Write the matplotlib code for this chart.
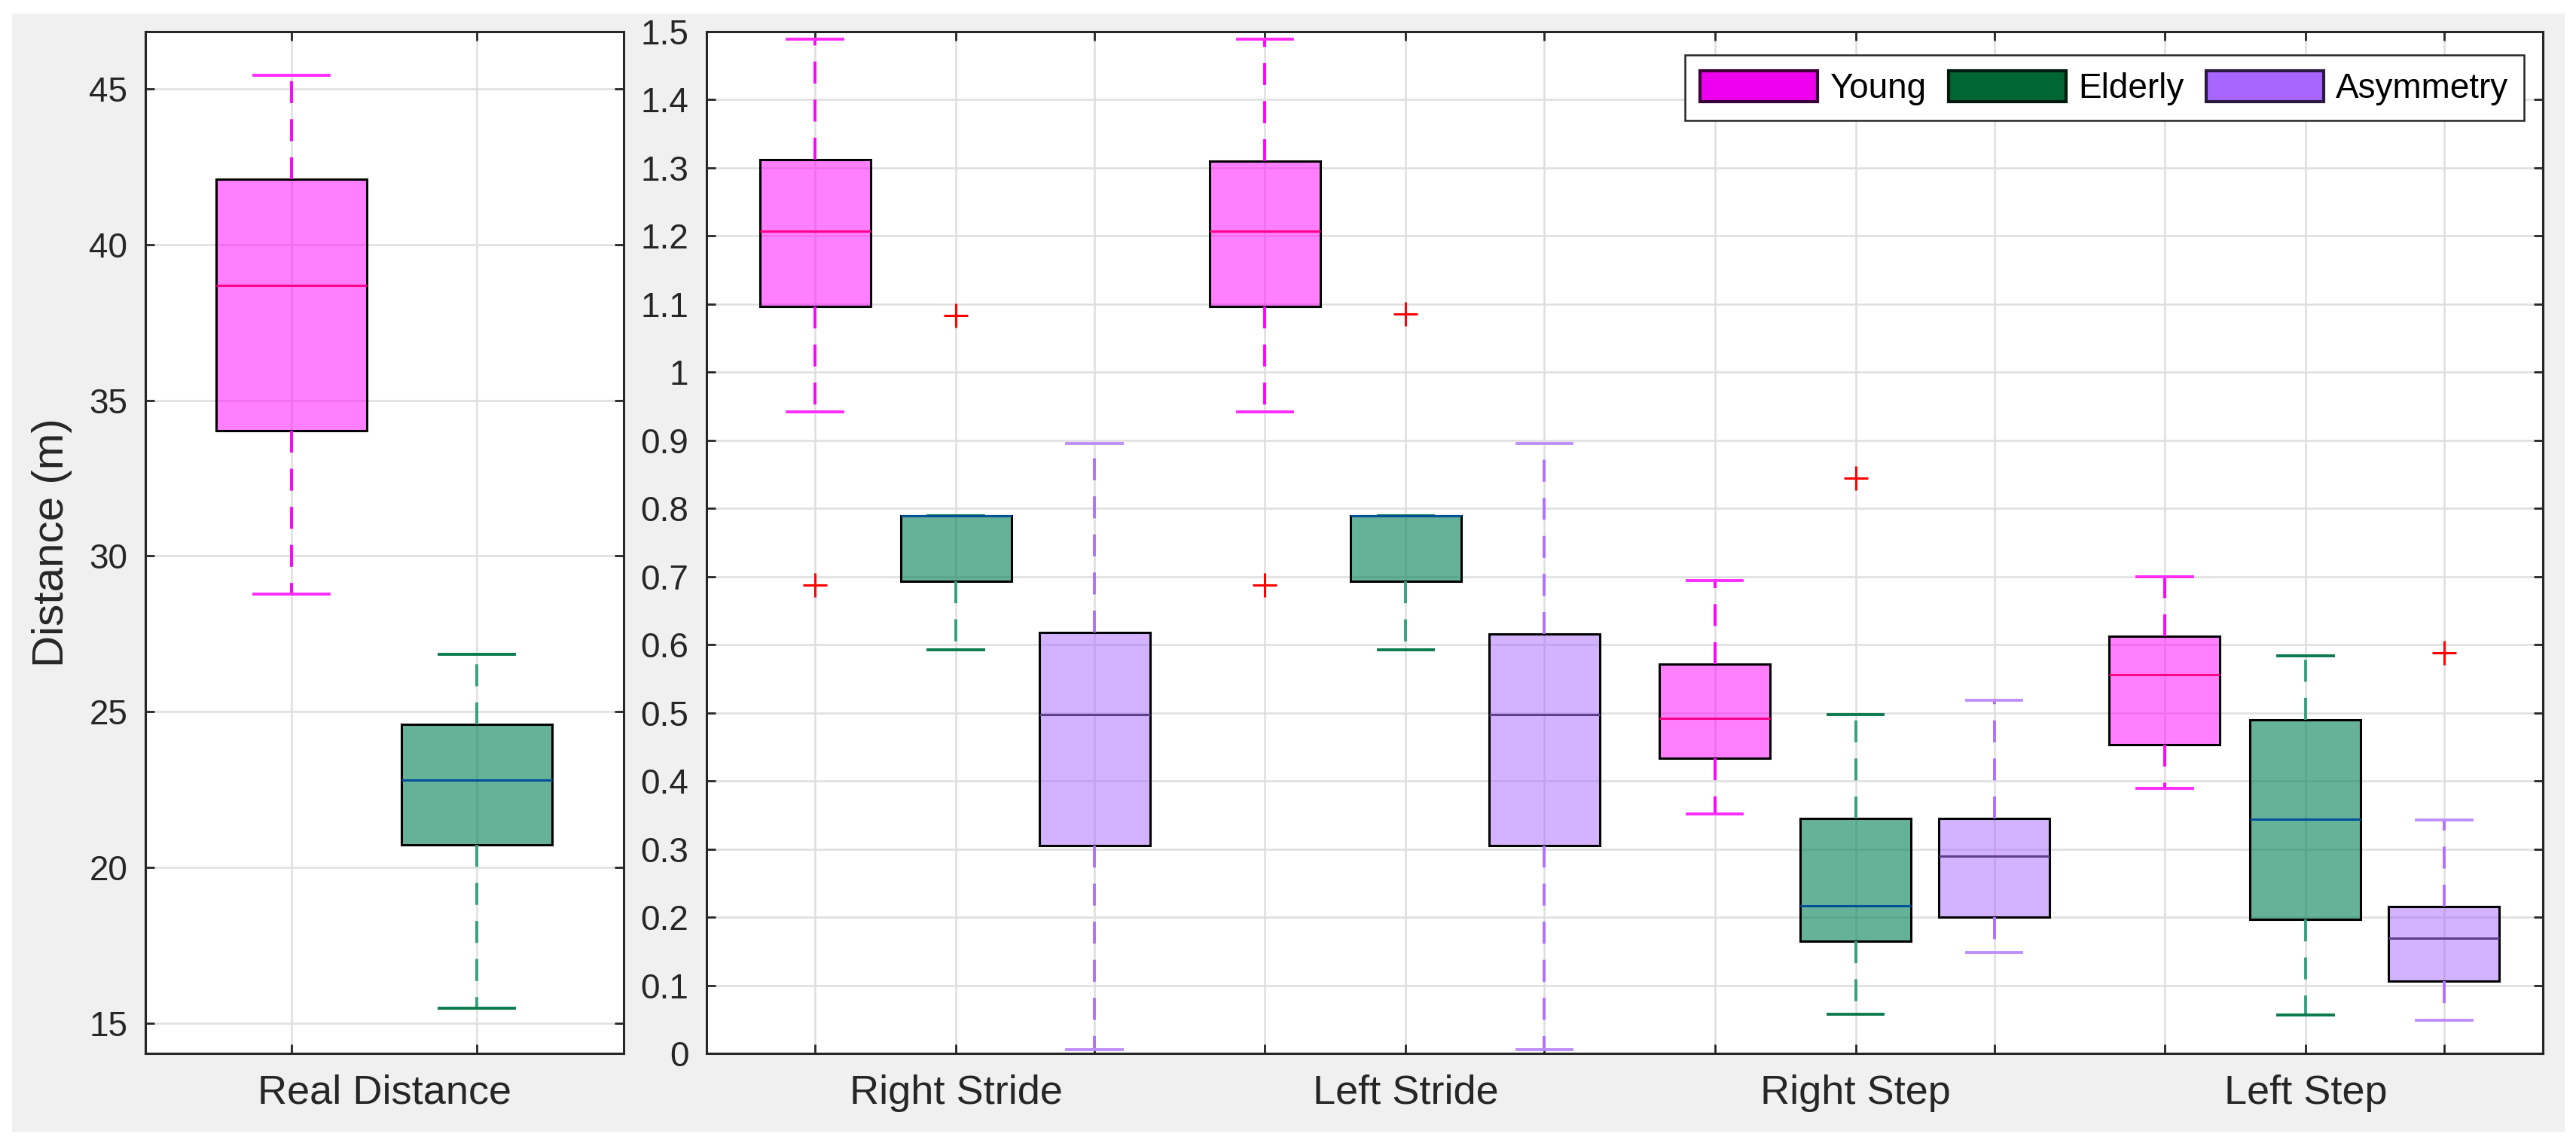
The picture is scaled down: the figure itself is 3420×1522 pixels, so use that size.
import matplotlib
matplotlib.use('Agg')
import matplotlib.pyplot as plt
from matplotlib.patches import Patch, Rectangle

plt.rcParams['font.family'] = ['Liberation Sans', 'DejaVu Sans']

# datos (min, q1, mediana, q3, max)
categories = ['Right Stride', 'Left Stride', 'Right Step', 'Left Step']
series = ['Young', 'Elderly', 'Asymmetry']

young_low = [0.942, 0.942, 0.352, 0.389]
young_q1 = [1.096, 1.096, 0.433, 0.453]
young_med = [1.207, 1.207, 0.492, 0.556]
young_q3 = [1.312, 1.310, 0.572, 0.612]
young_high = [1.489, 1.489, 0.694, 0.700]
young_out = [[0.688], [0.688], [], []]

elderly_low = [0.592, 0.592, 0.058, 0.056]
elderly_q1 = [0.693, 0.693, 0.165, 0.197]
elderly_med = [0.789, 0.789, 0.217, 0.344]
elderly_q3 = [0.789, 0.789, 0.345, 0.490]
elderly_high = [0.789, 0.789, 0.497, 0.584]
elderly_out = [[1.083], [1.086], [0.844], []]

asym_low = [0.005, 0.005, 0.148, 0.049]
asym_q1 = [0.305, 0.305, 0.200, 0.106]
asym_med = [0.497, 0.497, 0.290, 0.169]
asym_q3 = [0.618, 0.616, 0.345, 0.215]
asym_high = [0.895, 0.895, 0.518, 0.343]
asym_out = [[], [], [], [0.588]]

real_label = 'Real Distance'
real_young = [28.79, 34.02, 38.68, 42.11, 45.43]
real_elderly = [15.49, 20.72, 22.81, 24.59, 26.84]

# colores
face_cols = [(1.0, 0.0, 1.0, 0.5), (0.0, 0.50, 0.33, 0.6), (0.663, 0.40, 1.0, 0.5)]
whisk_cols = ['#ff00ff', '#36a07e', '#b070ff']
cap_cols = ['#ff2bff', '#0b7a4c', '#bf8fff']
med_cols = ['#ff0088', '#00509a', '#5e3f8c']
legend_cols = ['#ee00ee', '#006633', '#a866ff']
legend_edges = ['#3a003a', '#001a0d', '#2a1a40']
txt = '#262626'


def make_stats(low, q1, med, q3, high, out):
    return [dict(whislo=low[i], q1=q1[i], med=med[i], q3=q3[i], whishi=high[i],
                 fliers=out[i], mean=med[i]) for i in range(len(low))]


def draw_boxes(ax, stats, pos, width, k):
    ax.bxp(stats, positions=pos, widths=width, capwidths=width * 0.5,
           patch_artist=True, manage_ticks=False, showfliers=True,
           boxprops=dict(facecolor=face_cols[k], edgecolor='black', linewidth=1.1),
           whiskerprops=dict(color=whisk_cols[k], linestyle=(0, (7.5, 5.5)), linewidth=1.4),
           capprops=dict(color=cap_cols[k], linewidth=1.4),
           medianprops=dict(color=med_cols[k], linewidth=1.1),
           flierprops=dict(marker='+', markeredgecolor='red', markersize=11.5,
                           markeredgewidth=1.1, linestyle='none'))


def style_axes(ax):
    ax.set_facecolor('white')
    ax.set_axisbelow(True)
    for sp in ax.spines.values():
        sp.set_linewidth(1.1)
        sp.set_color(txt)
    ax.tick_params(which='major', direction='in', length=4.3, width=1.0,
                   top=True, right=True, color=txt, labelcolor=txt,
                   labelsize=16.5, pad=8.5)
    ax.tick_params(axis='x', which='major', labelsize=19.5, pad=10)
    ax.tick_params(which='minor', length=0, labelsize=19.5, labelcolor=txt, pad=10)
    ax.grid(True, which='major', color='#dedede', linewidth=0.9)


fig = plt.figure(figsize=(17.1, 7.61), dpi=200)
fig.add_artist(Rectangle((16 / 3420, 1 - 1503 / 1522), (3405 - 16) / 3420, (1503 - 18) / 1522,
                         transform=fig.transFigure, facecolor='#f0f0f0',
                         edgecolor='none', zorder=-10))

ax1 = fig.add_axes([193 / 3420, 1 - 1399 / 1522, 635 / 3420, 1357 / 1522])
ax2 = fig.add_axes([938 / 3420, 1 - 1399 / 1522, 2438 / 3420, 1357 / 1522])

# panel izquierdo: distancia real
for k, vals in enumerate([real_young, real_elderly]):
    st = make_stats([vals[0]], [vals[1]], [vals[2]], [vals[3]], [vals[4]], [[]])
    draw_boxes(ax1, st, [k + 1], 0.81, k)
style_axes(ax1)
ax1.set_xlim(0.211, 2.793)
ax1.set_ylim(14.03, 46.84)
ax1.set_yticks([15, 20, 25, 30, 35, 40, 45])
ax1.set_xticks([1, 2])
ax1.set_xticklabels(['', ''])
ax1.set_xticks([1.5], [real_label], minor=True)
ax1.set_ylabel('Distance (m)', fontsize=21, color=txt, labelpad=8)

# panel derecho: zancadas y pasos
centers = [1, 2, 3, 4]
offsets = [-0.313, 0, 0.308]
all_stats = [make_stats(young_low, young_q1, young_med, young_q3, young_high, young_out),
             make_stats(elderly_low, elderly_q1, elderly_med, elderly_q3, elderly_high, elderly_out),
             make_stats(asym_low, asym_q1, asym_med, asym_q3, asym_high, asym_out)]
for k in range(3):
    pos = [c + offsets[k] for c in centers]
    draw_boxes(ax2, all_stats[k], pos, 0.246, k)
style_axes(ax2)
ax2.set_xlim(0.4456, 4.5276)
ax2.set_ylim(0, 1.5)
yt = [round(i * 0.1, 1) for i in range(16)]
ax2.set_yticks(yt)
ax2.set_yticklabels([f'{v:g}' for v in yt])
major_x = []
major_lab = []
for c, cat in zip(centers, categories):
    for o in offsets:
        major_x.append(c + o)
        major_lab.append(cat if o == 0 else '')
ax2.set_xticks(major_x)
ax2.set_xticklabels(major_lab)

handles = [Patch(facecolor=legend_cols[i], edgecolor=legend_edges[i], linewidth=1.5)
           for i in range(3)]
leg = ax2.legend(handles, series, loc='upper right', bbox_to_anchor=(0.9897, 0.9772),
                 ncol=3, borderaxespad=0, fontsize=16.5, handlelength=3.4,
                 handleheight=1.0, handletextpad=0.35, columnspacing=0.65,
                 borderpad=0.45, fancybox=False, framealpha=1, edgecolor=txt)
leg.get_frame().set_linewidth(0.9)
for t in leg.get_texts():
    t.set_color('black')

fig.savefig('out.png', dpi=200)
